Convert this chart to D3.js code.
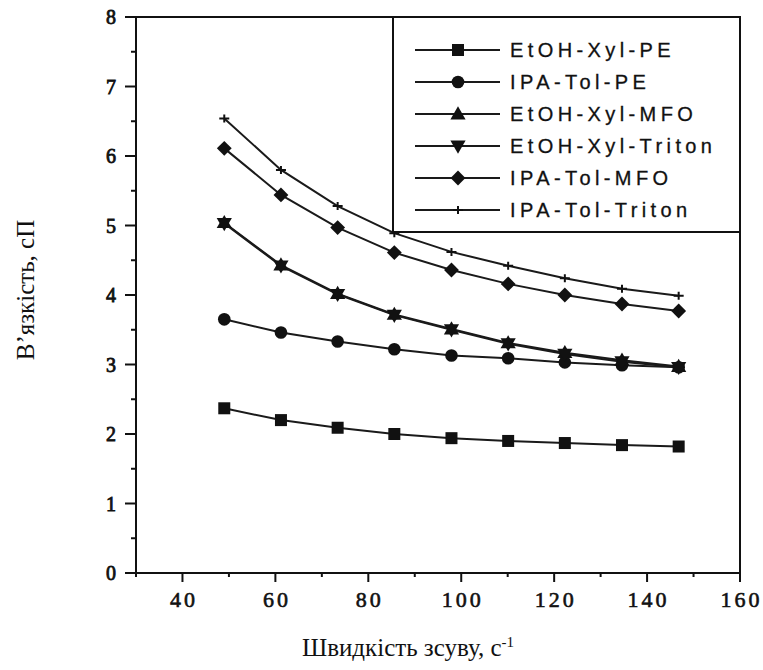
<!DOCTYPE html>
<html>
<head>
<meta charset="utf-8">
<script src="https://cdn.jsdelivr.net/npm/d3@7"></script>
<style>
  body { margin: 0; background: #fff; }
  svg { display: block; }
  .tick-y text { font-family: "Liberation Serif", "Times New Roman", serif; font-size: 20px; stroke: #111; stroke-width: 0.8px; fill: #111; }
  .tick-x text { font-family: "Liberation Serif", "Times New Roman", serif; font-size: 22px; letter-spacing: 3px; stroke: #111; stroke-width: 0.6px; fill: #111; }
  .axis-title { font-family: "Liberation Serif", "Times New Roman", serif; font-size: 25px; fill: #111; }
  .legend-text { font-family: "Liberation Sans", Arial, sans-serif; font-size: 20px; letter-spacing: 4.4px; fill: #111; stroke: #111; stroke-width: 0.3px; }
</style>
</head>
<body>
<div id="chart"></div>
<script>
// shear rate, 1/s
var shearRate = [49, 61.2, 73.4, 85.6, 97.9, 110.1, 122.3, 134.6, 146.8];

// viscosity, cP
var etohXylPE     = [2.37, 2.20, 2.09, 2.00, 1.94, 1.90, 1.87, 1.84, 1.82];
var ipaTolPE      = [3.65, 3.46, 3.33, 3.22, 3.13, 3.09, 3.03, 2.99, 2.96];
var etohXylMFO    = [5.04, 4.43, 4.02, 3.72, 3.51, 3.31, 3.17, 3.06, 2.97];
var etohXylTriton = [5.03, 4.42, 4.01, 3.71, 3.50, 3.30, 3.15, 3.04, 2.96];
var ipaTolMFO     = [6.11, 5.44, 4.97, 4.61, 4.36, 4.16, 4.00, 3.87, 3.77];
var ipaTolTriton  = [6.54, 5.80, 5.28, 4.89, 4.62, 4.42, 4.24, 4.09, 3.99];

var seriesNames = ["EtOH-Xyl-PE", "IPA-Tol-PE", "EtOH-Xyl-MFO", "EtOH-Xyl-Triton", "IPA-Tol-MFO", "IPA-Tol-Triton"];
var seriesValues = [etohXylPE, ipaTolPE, etohXylMFO, etohXylTriton, ipaTolMFO, ipaTolTriton];
var seriesMarkers = ["square", "circle", "triangle", "triangleDown", "diamond", "plus"];

var xTicks = [40, 60, 80, 100, 120, 140, 160];
var xMinorTicks = [30, 50, 70, 90, 110, 130, 150];
var yTicks = [0, 1, 2, 3, 4, 5, 6, 7, 8];
var yMinorTicks = [0.5, 1.5, 2.5, 3.5, 4.5, 5.5, 6.5, 7.5];

var xTitle = "Швидкість зсуву, с";
var yTitle = "В’язкість, сП";

var width = 763, height = 670;
var plot = {left: 136, right: 740, top: 17, bottom: 573};

var x = d3.scaleLinear().domain([30, 160]).range([plot.left, plot.right]);
var y = d3.scaleLinear().domain([0, 8]).range([plot.bottom, plot.top]);

var svg = d3.select("#chart").append("svg")
  .attr("width", width)
  .attr("height", height);

svg.append("rect").attr("width", width).attr("height", height).attr("fill", "#fff");

// marker drawing
function drawMarker(g, type, cx, cy) {
  var ink = "#111";
  if (type === "square") {
    g.append("rect").attr("x", cx - 6).attr("y", cy - 6).attr("width", 12).attr("height", 12).attr("fill", ink);
  } else if (type === "circle") {
    g.append("circle").attr("cx", cx).attr("cy", cy).attr("r", 6.3).attr("fill", ink);
  } else if (type === "triangle") {
    g.append("path").attr("d", d3.symbol().type(d3.symbolTriangle).size(100)())
      .attr("transform", "translate(" + cx + "," + (cy + 1) + ")").attr("fill", ink);
  } else if (type === "triangleDown") {
    g.append("path").attr("d", d3.symbol().type(d3.symbolTriangle).size(100)())
      .attr("transform", "translate(" + cx + "," + (cy - 1) + ")rotate(180)").attr("fill", ink);
  } else if (type === "diamond") {
    g.append("path").attr("d", d3.symbol().type(d3.symbolSquare).size(110)())
      .attr("transform", "translate(" + cx + "," + cy + ")rotate(45)").attr("fill", ink);
  } else if (type === "plus") {
    g.append("path").attr("d", "M" + (cx - 5) + "," + cy + "H" + (cx + 5) + "M" + cx + "," + (cy - 4) + "V" + (cy + 4))
      .attr("stroke", ink).attr("stroke-width", 2).attr("fill", "none");
  }
}

// frame
svg.append("rect")
  .attr("x", plot.left).attr("y", plot.top)
  .attr("width", plot.right - plot.left).attr("height", plot.bottom - plot.top)
  .attr("fill", "none").attr("stroke", "#111").attr("stroke-width", 2);

// y axis ticks and labels
var yAxis = svg.append("g").attr("class", "tick-y");
yAxis.selectAll("line.major").data(yTicks).enter().append("line")
  .attr("x1", plot.left - 11).attr("x2", plot.left)
  .attr("y1", function(d) { return y(d); }).attr("y2", function(d) { return y(d); })
  .attr("stroke", "#111").attr("stroke-width", 2);
yAxis.selectAll("line.minor").data(yMinorTicks).enter().append("line")
  .attr("x1", plot.left - 5).attr("x2", plot.left)
  .attr("y1", function(d) { return y(d); }).attr("y2", function(d) { return y(d); })
  .attr("stroke", "#111").attr("stroke-width", 2);
yAxis.selectAll("text").data(yTicks).enter().append("text")
  .attr("x", plot.left - 20)
  .attr("y", function(d) { return y(d); })
  .attr("dy", "0.35em")
  .attr("text-anchor", "end")
  .text(function(d) { return d; });

// x axis ticks and labels
var xAxis = svg.append("g").attr("class", "tick-x");
xAxis.selectAll("line.major").data(xTicks).enter().append("line")
  .attr("x1", function(d) { return x(d); }).attr("x2", function(d) { return x(d); })
  .attr("y1", plot.bottom).attr("y2", plot.bottom + 9)
  .attr("stroke", "#111").attr("stroke-width", 2);
xAxis.selectAll("line.minor").data(xMinorTicks).enter().append("line")
  .attr("x1", function(d) { return x(d); }).attr("x2", function(d) { return x(d); })
  .attr("y1", plot.bottom).attr("y2", plot.bottom + 4)
  .attr("stroke", "#111").attr("stroke-width", 2);
xAxis.selectAll("text").data(xTicks).enter().append("text")
  .attr("x", function(d) { return x(d) + 1.5; })
  .attr("y", 607)
  .attr("text-anchor", "middle")
  .text(function(d) { return d; });

// axis titles
var xt = svg.append("text")
  .attr("class", "axis-title")
  .attr("x", 408).attr("y", 656)
  .attr("text-anchor", "middle");
xt.append("tspan").text(xTitle);
xt.append("tspan").attr("dy", -9).style("font-size", "15px").text("-1");

svg.append("text")
  .attr("class", "axis-title")
  .attr("text-anchor", "middle")
  .attr("transform", "translate(34,290)rotate(-90)")
  .text(yTitle);

// series
var line = d3.line()
  .x(function(d) { return x(d[0]); })
  .y(function(d) { return y(d[1]); });

var seriesG = svg.append("g");
seriesValues.forEach(function(vals, i) {
  var pts = shearRate.map(function(s, j) { return [s, vals[j]]; });
  seriesG.append("path")
    .datum(pts)
    .attr("d", line)
    .attr("fill", "none")
    .attr("stroke", "#1a1a1a")
    .attr("stroke-width", 2);
});
seriesValues.forEach(function(vals, i) {
  var g = seriesG.append("g");
  shearRate.forEach(function(s, j) {
    drawMarker(g, seriesMarkers[i], x(s), y(vals[j]));
  });
});

// legend
var legendBox = {x: 393, y: 17, w: 347, h: 215};
var legend = svg.append("g");
legend.append("rect")
  .attr("x", legendBox.x).attr("y", legendBox.y)
  .attr("width", legendBox.w).attr("height", legendBox.h)
  .attr("fill", "#fff").attr("stroke", "#111").attr("stroke-width", 2);

seriesNames.forEach(function(name, i) {
  var ly = 50 + i * 32;
  var row = legend.append("g");
  row.append("line")
    .attr("x1", 415).attr("x2", 500)
    .attr("y1", ly).attr("y2", ly)
    .attr("stroke", "#1a1a1a").attr("stroke-width", 2);
  drawMarker(row, seriesMarkers[i], 458, ly);
  row.append("text")
    .attr("class", "legend-text")
    .attr("x", 510).attr("y", ly)
    .attr("dy", "0.36em")
    .text(name);
});
</script>
</body>
</html>
